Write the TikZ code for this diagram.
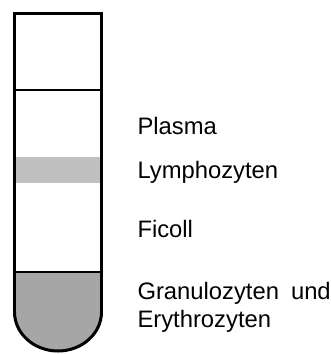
\documentclass[tikz,border=0pt]{standalone}
\usepackage{fontspec}
\setmainfont{Liberation Sans}
\begin{document}
\begin{tikzpicture}[x=1pt,y=-1pt,
  tubeline/.style={line width=3pt,black},
  layerline/.style={line width=2.5pt,black},
  lbl/.style={anchor=base west,inner sep=0pt,outer sep=0pt,font=\fontsize{23.8}{28}\selectfont}]
\useasboundingbox (0,0) rectangle (331,354);
% bottom fill
\fill[fill={rgb,255:red,166;green,166;blue,166}] (14.5,272) -- (14.5,312) arc[start angle=180,end angle=360,x radius=43.5,y radius=-39] -- (101.5,272) -- cycle;
% lymphocyte band
\fill[fill={rgb,255:red,192;green,192;blue,192}] (14.5,157) rectangle (101.5,183);
% layer lines
\draw[layerline] (14.5,90) -- (101.5,90);
\draw[layerline] (14.5,272) -- (101.5,272);
% tube outline
\draw[tubeline,line join=miter] (14.5,312) -- (14.5,13) -- (101.5,13) -- (101.5,312);
\draw[tubeline] (14.5,312) arc[start angle=180,end angle=360,x radius=43.5,y radius=-39];
% labels
\node[lbl] (plasma) at (137.5,134) {Plasma};
\node[lbl] (lymph) at (137.5,178.5) {Lymphozyten};
\node[lbl] (ficoll) at (137.5,237) {Ficoll};
\node[lbl] (granulo) at (137.5,299.5) {Granulozyten\hspace{12pt}und};
\node[lbl] (erythro) at (137.5,327.5) {Erythrozyten};
\end{tikzpicture}
\end{document}
